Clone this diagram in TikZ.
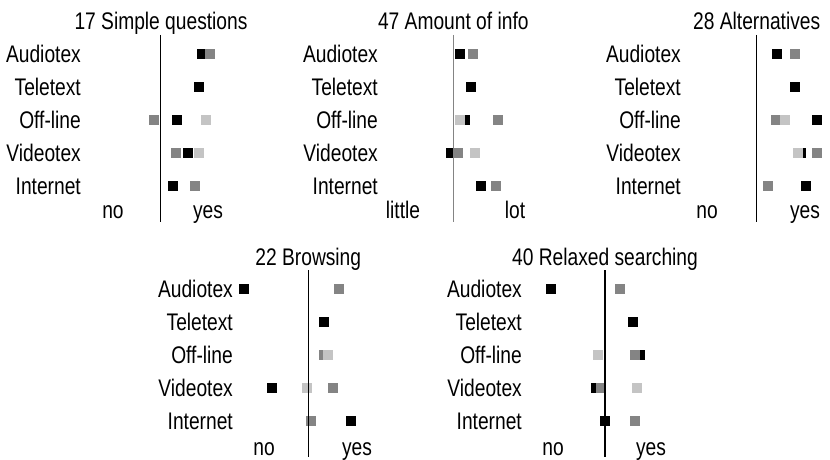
\documentclass[tikz,border=0pt]{standalone}
\usepackage{fontspec}
\setmainfont{Liberation Sans}[FakeStretch=0.8]
\definecolor{midgray}{HTML}{848484}
\definecolor{lightgray}{HTML}{C4C4C4}
\tikzset{
  txt/.style={inner sep=0pt, font=\fontsize{24}{26}\selectfont},
  rowlab/.style={txt, anchor=base east},
  axis/.style={line width=1.2pt},
}
% one filled marker square, 10 units wide, centred on (#2,#3)
\newcommand\mk[3]{\fill[#1] (#2-5,#3-5) rectangle (#2+5,#3+5);}
% row labels of one panel: #1 prefix, #2 right edge, #3 first row y
\newcommand\rowlabels[3]{%
  \foreach \lab [count=\i from 0] in {Audiotex,Teletext,Off-line,Videotex,Internet}
    \node[rowlab] (#1-\i) at (#2,#3+33*\i+8.5) {\lab};}
\begin{document}
\begin{tikzpicture}[x=1pt,y=-1pt]
\useasboundingbox (0,0) rectangle (830,460);

% ---------- 17 Simple questions ----------
\node[txt, anchor=base] (t1) at (161,29.5) {17 Simple questions};
\rowlabels{p1}{81}{54}
\mk{black}{202.3}{54}\mk{midgray}{210.3}{54}
\mk{black}{199}{87}
\mk{black}{177}{120}\mk{midgray}{154}{120}\mk{lightgray}{206}{120}
\mk{black}{188}{153}\mk{midgray}{176}{153}\mk{lightgray}{199}{153}
\mk{black}{173}{186}\mk{midgray}{195}{186}
\coordinate (a1t) at (160.7,35); \coordinate (a1b) at (160.7,222);
\draw[axis] (a1t) -- (a1b);
\node[txt, anchor=base] (l1) at (113,218.5) {no};
\node[txt, anchor=base] (r1) at (208,218.5) {yes};

% ---------- 47 Amount of info ----------
\node[txt, anchor=base] (t2) at (453.3,29.5) {47 Amount of info};
\rowlabels{p2}{378}{54}
\mk{black}{460}{54}\mk{midgray}{473}{54}
\mk{black}{471}{87}
\mk{black}{465.3}{120}\mk{lightgray}{460}{120}\mk{midgray}{498}{120}
\mk{black}{450.7}{153}\mk{midgray}{458.3}{153}\mk{lightgray}{475.3}{153}
\mk{black}{480.7}{186}\mk{midgray}{495.7}{186}
\coordinate (a2t) at (453.3,35); \coordinate (a2b) at (453.3,222);
\draw[axis, midgray] (a2t) -- (a2b);
\node[txt, anchor=base] (l2) at (403,218.5) {little};
\node[txt, anchor=base] (r2) at (515,218.5) {lot};

% ---------- 28 Alternatives ----------
\node[txt, anchor=base] (t3) at (756.7,29.5) {28 Alternatives};
\rowlabels{p3}{681}{54}
\mk{black}{777}{54}\mk{midgray}{795}{54}
\mk{black}{795}{87}
\mk{black}{817}{120}\mk{midgray}{775.7}{120}\mk{lightgray}{784.7}{120}
\mk{black}{801}{153}\mk{lightgray}{798}{153}\mk{midgray}{817}{153}
\mk{black}{806}{186}\mk{midgray}{768}{186}
\coordinate (a3t) at (756.7,35); \coordinate (a3b) at (756.7,222);
\draw[axis] (a3t) -- (a3b);
\node[txt, anchor=base] (l3) at (707,218.5) {no};
\node[txt, anchor=base] (r3) at (805,218.5) {yes};

% ---------- 22 Browsing ----------
\node[txt, anchor=base] (t4) at (308.3,265) {22 Browsing};
\rowlabels{p4}{233}{288.5}
\mk{black}{244}{288.5}\mk{midgray}{339}{288.5}
\mk{black}{324}{321.5}
\mk{midgray}{324}{354.5}\mk{lightgray}{328}{354.5}
\mk{black}{272}{387.5}\mk{lightgray}{307}{387.5}\mk{midgray}{333}{387.5}
\mk{black}{351}{420.5}\mk{midgray}{311}{420.5}
\coordinate (a4t) at (308.3,270); \coordinate (a4b) at (308.3,457);
\draw[axis] (a4t) -- (a4b);
\node[txt, anchor=base] (l4) at (264,455.5) {no};
\node[txt, anchor=base] (r4) at (357,455.5) {yes};

% ---------- 40 Relaxed searching ----------
\node[txt, anchor=base] (t5) at (605,265) {40 Relaxed searching};
\rowlabels{p5}{522}{288.5}
\mk{black}{551}{288.5}\mk{midgray}{620}{288.5}
\mk{black}{633}{321.5}
\mk{black}{640}{354.5}\mk{lightgray}{598}{354.5}\mk{midgray}{635}{354.5}
\mk{black}{595.7}{387.5}\mk{midgray}{600.7}{387.5}\mk{lightgray}{637.3}{387.5}
\mk{black}{605}{420.5}\mk{midgray}{635}{420.5}
\coordinate (a5t) at (605,270); \coordinate (a5b) at (605,457);
\draw[axis] (a5t) -- (a5b);
\node[txt, anchor=base] (l5) at (553,455.5) {no};
\node[txt, anchor=base] (r5) at (651,455.5) {yes};
\end{tikzpicture}
\end{document}
